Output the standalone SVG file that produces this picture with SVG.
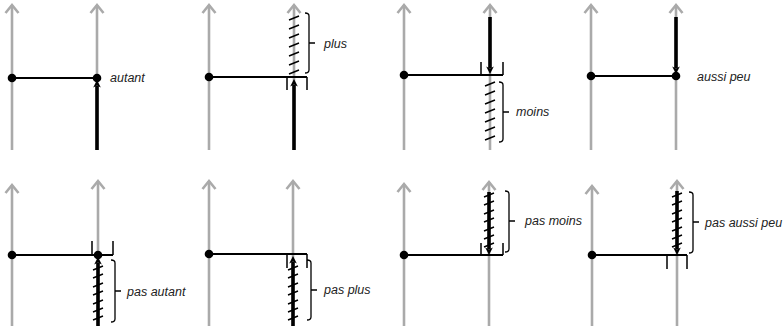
<svg xmlns="http://www.w3.org/2000/svg" width="784" height="332" viewBox="0 0 784 332">
<style>
.ax{stroke:#aaaaaa;stroke-width:2.6;fill:none;marker-end:url(#ga)}
.h{stroke:#000;stroke-width:2.2;fill:none}
.th{stroke:#000;stroke-width:3.6;fill:none;marker-end:url(#ba)}
.tk{stroke:#000;stroke-width:1.5;fill:none}
.ht{stroke:#000;stroke-width:1.4;fill:none}
.br{stroke:#000;stroke-width:1.3;fill:none}
.dot{fill:#000}
text{font-family:"Liberation Sans",Arial,sans-serif;font-style:italic;font-size:12.5px;fill:#222}
</style>
<defs>
<marker id="ga" markerUnits="userSpaceOnUse" markerWidth="20" markerHeight="20" viewBox="-10 -10 20 20" refX="0" refY="0" orient="auto" overflow="visible">
<path d="M-8,-6.5 L0,0 L-8,6.5" fill="none" stroke="#aaaaaa" stroke-width="2.6"/>
</marker>
<marker id="ba" markerUnits="userSpaceOnUse" markerWidth="20" markerHeight="20" viewBox="-10 -10 20 20" refX="0" refY="0" orient="auto" overflow="visible">
<path d="M6,0 L-1.5,-3.8 L0.5,0 L-1.5,3.8 Z" fill="#000"/>
</marker>
</defs>

<g id="panel-autant">
<line class="ax" x1="12" y1="150" x2="12" y2="5"/>
<line class="ax" x1="97" y1="150" x2="97" y2="5"/>
<line class="h" x1="12" y1="78" x2="97" y2="78"/>
<line class="th" x1="97" y1="150" x2="97" y2="86"/>
<circle class="dot" cx="12" cy="78" r="4.3"/>
<circle class="dot" cx="97" cy="78" r="4.3"/>
<text x="110" y="82">autant</text>
</g>

<g id="panel-plus">
<line class="ax" x1="209" y1="150" x2="209" y2="5"/>
<line class="ax" x1="294" y1="150" x2="294" y2="5"/>
<path class="ht" d="M289,20 L299,16 M289,29 L299,25 M289,38 L299,34 M289,47 L299,43 M289,56 L299,52 M289,65 L299,61 M289,74 L299,70"/>
<line class="h" x1="209" y1="77" x2="307" y2="77"/>
<path class="tk" d="M287,77 L287,90 M307,77 L307,90"/>
<line class="th" x1="294" y1="150" x2="294" y2="85"/>
<circle class="dot" cx="209" cy="77" r="4.3"/>
<path class="br" d="M305,13 Q309,13 309,16 L309,70 Q309,73 305,73 M309,43 L315,43"/>
<text x="324" y="48">plus</text>
</g>

<g id="panel-moins">
<line class="ax" x1="404" y1="150" x2="404" y2="5"/>
<line class="ax" x1="490" y1="150" x2="490" y2="5"/>
<path class="ht" d="M485,86 L495,82 M485,95 L495,91 M485,104 L495,100 M485,113 L495,109 M485,122 L495,118 M485,131 L495,127 M485,140 L495,136"/>
<line class="h" x1="404" y1="75" x2="503" y2="75"/>
<path class="tk" d="M481,62 L481,75 M503,62 L503,75"/>
<line class="th" x1="490" y1="17" x2="490" y2="68"/>
<circle class="dot" cx="404" cy="75" r="4.3"/>
<path class="br" d="M499,82 Q503,82 503,85 L503,139 Q503,142 499,142 M503,112 L509,112"/>
<text x="516" y="116">moins</text>
</g>

<g id="panel-aussi-peu">
<line class="ax" x1="591" y1="150" x2="591" y2="5"/>
<line class="ax" x1="676" y1="150" x2="676" y2="5"/>
<line class="h" x1="591" y1="76" x2="676" y2="76"/>
<line class="th" x1="676" y1="17" x2="676" y2="68"/>
<circle class="dot" cx="591" cy="76" r="4.3"/>
<circle class="dot" cx="676" cy="76" r="4.3"/>
<text x="697" y="81">aussi peu</text>
</g>

<g id="panel-pas-autant">
<line class="ax" x1="12" y1="326" x2="12" y2="185"/>
<line class="ax" x1="98" y1="326" x2="98" y2="181"/>
<line class="h" x1="12" y1="255" x2="113" y2="255"/>
<path class="tk" d="M92,241 L92,255 M113,241 L113,255"/>
<line class="th" x1="98" y1="326" x2="98" y2="263"/>
<path class="ht" d="M93,270 L103,266 M93,278 L103,274 M93,287 L103,283 M93,295 L103,291 M93,304 L103,300 M93,312 L103,308 M93,320 L103,316"/>
<circle class="dot" cx="12" cy="255" r="4.3"/>
<circle class="dot" cx="98" cy="255" r="4.3"/>
<path class="br" d="M111,260 Q115,260 115,263 L115,319 Q115,322 111,322 M115,291 L121,291"/>
<text x="127" y="296">pas autant</text>
</g>

<g id="panel-pas-plus">
<line class="ax" x1="209" y1="326" x2="209" y2="181"/>
<line class="ax" x1="293" y1="326" x2="293" y2="181"/>
<line class="h" x1="209" y1="254" x2="307" y2="254"/>
<path class="tk" d="M287,254 L287,268 M307,254 L307,268"/>
<line class="th" x1="293" y1="326" x2="293" y2="262"/>
<path class="ht" d="M288,270 L298,266 M288,278 L298,274 M288,287 L298,283 M288,295 L298,291 M288,304 L298,300 M288,312 L298,308 M288,320 L298,316"/>
<circle class="dot" cx="209" cy="254" r="4.3"/>
<path class="br" d="M307,260 Q311,260 311,263 L311,317 Q311,320 307,320 M311,290 L317,290"/>
<text x="324" y="294">pas plus</text>
</g>

<g id="panel-pas-moins">
<line class="ax" x1="404" y1="326" x2="404" y2="184"/>
<line class="ax" x1="489" y1="326" x2="489" y2="182"/>
<line class="h" x1="404" y1="255" x2="503" y2="255"/>
<path class="tk" d="M481,243 L481,255 M503,243 L503,255"/>
<line class="th" x1="489" y1="192" x2="489" y2="249"/>
<path class="ht" d="M484,197 L494,193 M484,205 L494,201 M484,214 L494,210 M484,222 L494,218 M484,231 L494,227 M484,239 L494,235 M484,247 L494,243"/>
<circle class="dot" cx="404" cy="255" r="4.3"/>
<path class="br" d="M505,191 Q509,191 509,194 L509,249 Q509,252 505,252 M509,221 L515,221"/>
<text x="525" y="225">pas moins</text>
</g>

<g id="panel-pas-aussi-peu">
<line class="ax" x1="592" y1="326" x2="592" y2="186"/>
<line class="ax" x1="677" y1="326" x2="677" y2="181"/>
<line class="h" x1="592" y1="255" x2="687" y2="255"/>
<path class="tk" d="M667,255 L667,269 M687,255 L687,269"/>
<line class="th" x1="677" y1="191" x2="677" y2="249"/>
<path class="ht" d="M672,197 L682,193 M672,205 L682,201 M672,214 L682,210 M672,222 L682,218 M672,231 L682,227 M672,239 L682,235 M672,247 L682,243"/>
<circle class="dot" cx="592" cy="255" r="4.3"/>
<path class="br" d="M689,192 Q693,192 693,195 L693,250 Q693,253 689,253 M693,222 L699,222"/>
<text x="705" y="227">pas aussi peu</text>
</g>
</svg>
